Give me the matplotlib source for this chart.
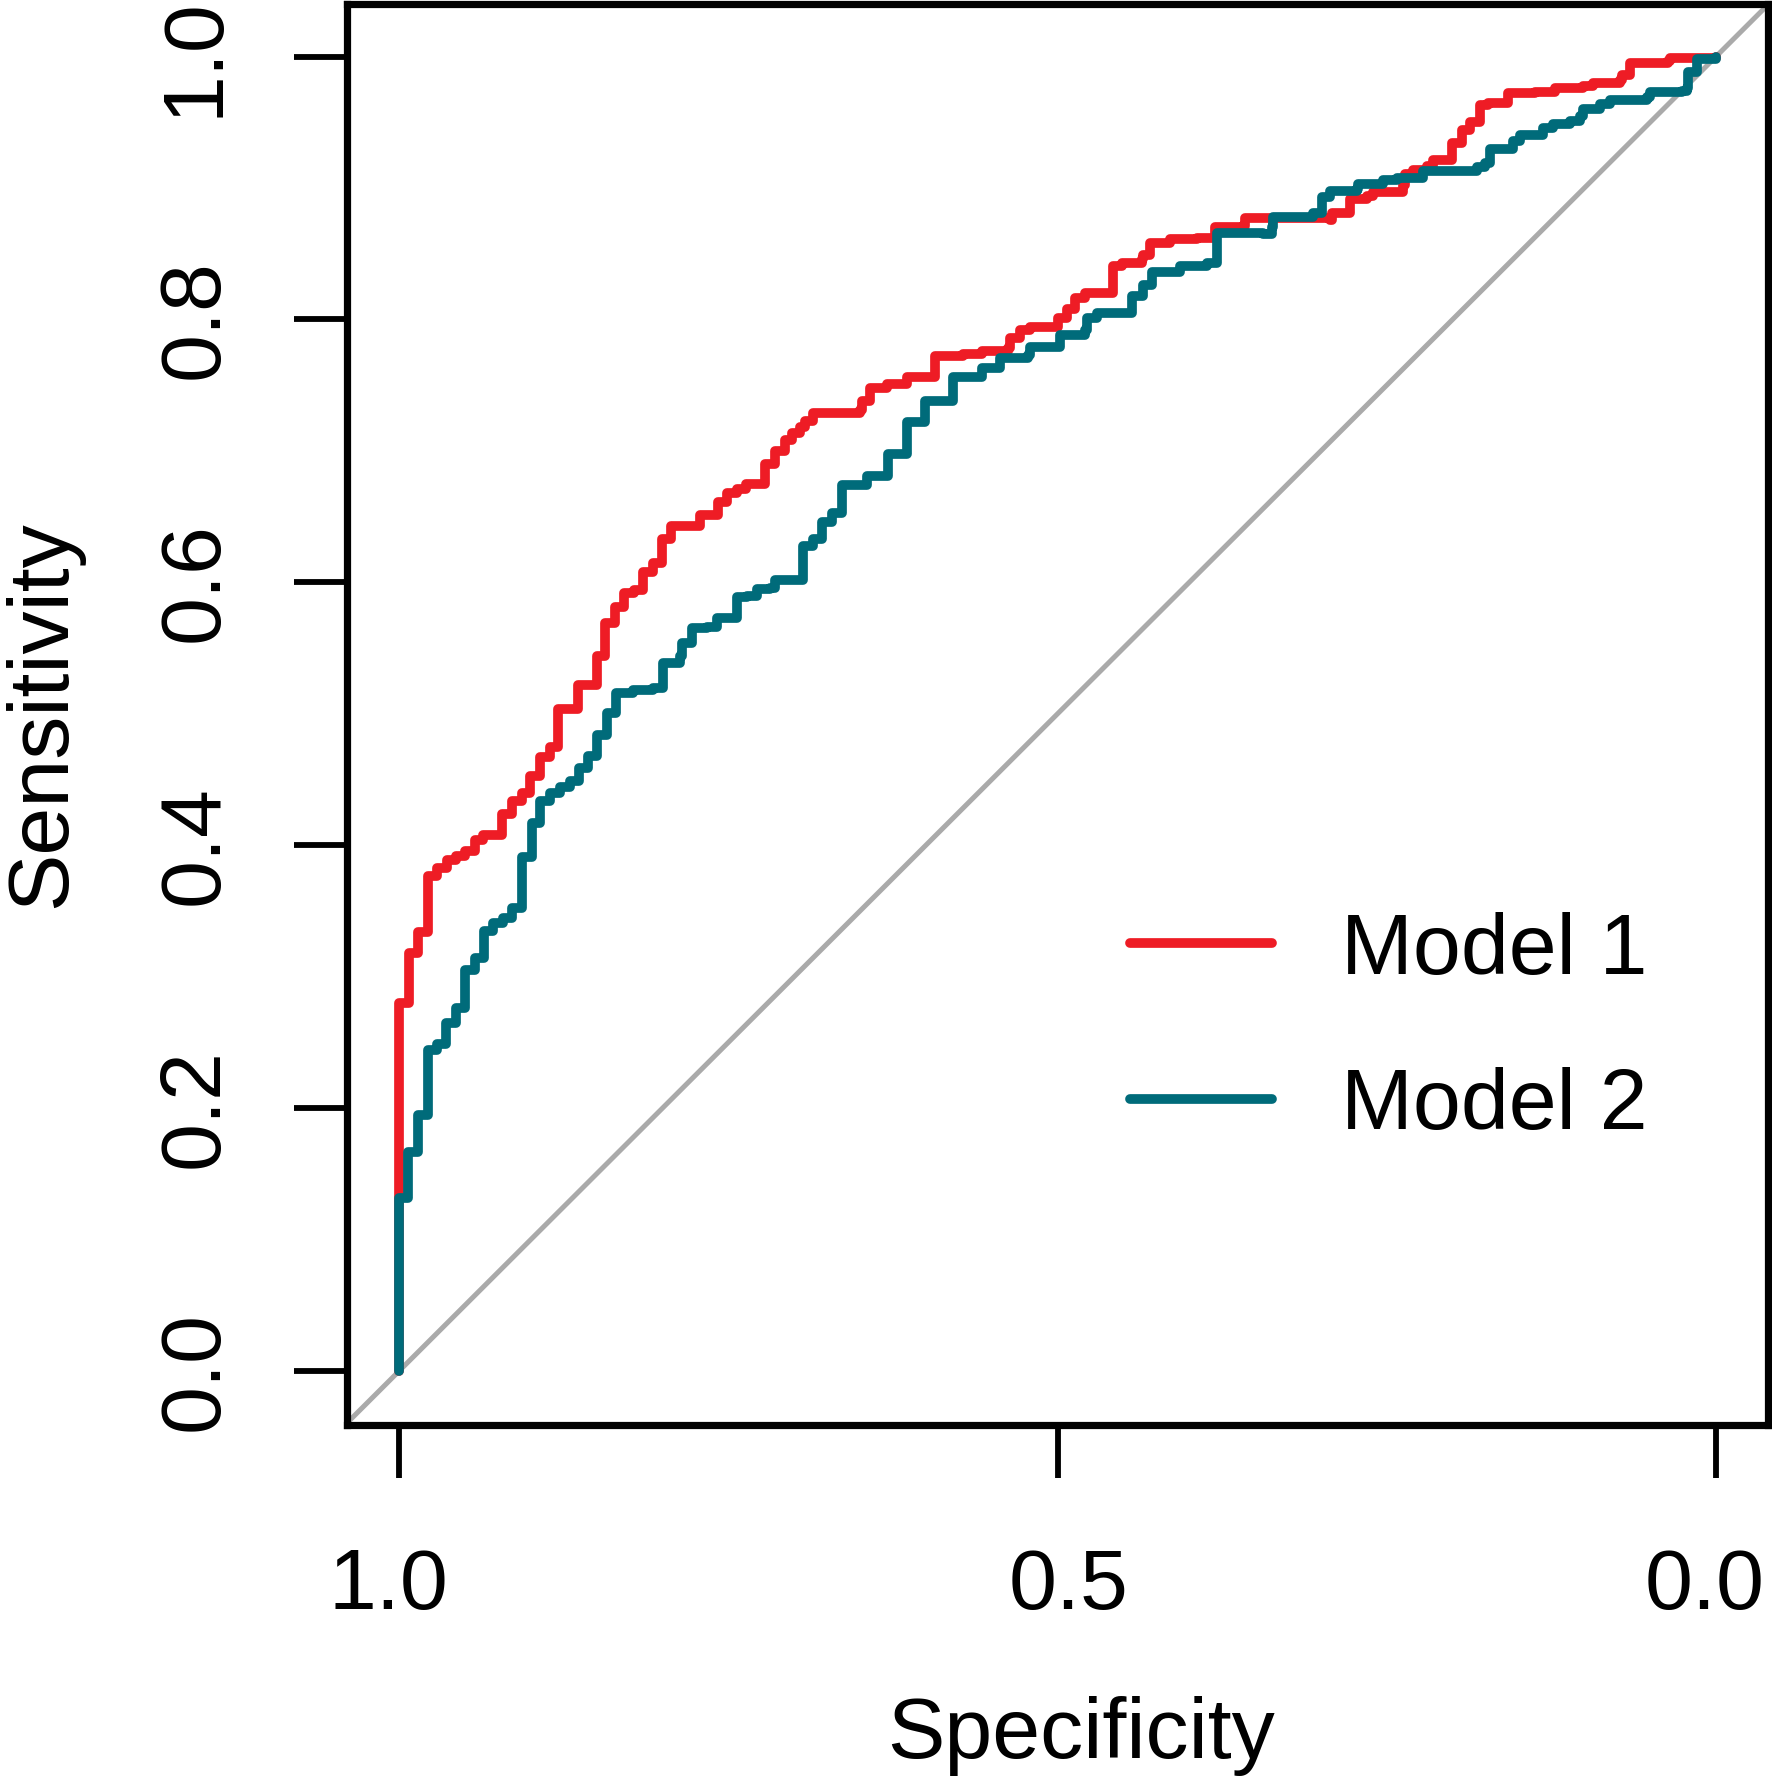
import matplotlib
matplotlib.use("Agg")
import matplotlib.pyplot as plt
import matplotlib.transforms as mtransforms
import numpy as np

plt.rcParams['font.family'] = ['Liberation Sans', 'DejaVu Sans']

# ROC data: false positive rate (1 - specificity) and sensitivity
m1_fpr = [0, 0, 0.0076, 0.0076, 0.0144, 0.0144, 0.022, 0.022, 0.0289, 0.0364, 0.0433, 0.0501,
          0.0577, 0.0638, 0.0782, 0.0782, 0.0858, 0.0934, 0.0995, 0.1071, 0.1147, 0.1207, 0.1207,
          0.1359, 0.1359, 0.1503, 0.1503, 0.1564, 0.164, 0.1708, 0.1784, 0.1853, 0.1929, 0.1997,
          0.2065, 0.2286, 0.2286, 0.2422, 0.2422, 0.249, 0.2566, 0.2635, 0.2779, 0.2779, 0.2855,
          0.2931, 0.2984, 0.3045, 0.3083, 0.3143, 0.3424, 0.35, 0.3516, 0.3576, 0.3705, 0.3857,
          0.407, 0.407, 0.4282, 0.4427, 0.4624, 0.4639, 0.4715, 0.4791, 0.4996, 0.5004, 0.5072,
          0.5133, 0.5209, 0.5421, 0.5421, 0.549, 0.5642, 0.5649, 0.5702, 0.5854, 0.6059, 0.6196,
          0.6196, 0.6409, 0.6424, 0.6636, 0.7069, 0.7084, 0.7221, 0.7221, 0.735, 0.7396, 0.7623,
          0.7639, 0.7699, 0.7806, 0.7851, 0.7995, 0.7995, 0.8071, 0.8071, 0.8132, 0.8208, 0.8269,
          0.8421, 0.8421, 0.8626, 0.8778, 0.899, 0.9066, 0.9271, 0.9286, 0.9347, 0.9347, 0.9636,
          0.9651, 1.0]
m1_sens = [0, 0.280, 0.280, 0.318, 0.318, 0.334, 0.334, 0.377, 0.383, 0.389, 0.392, 0.396,
           0.404, 0.408, 0.408, 0.424, 0.434, 0.440, 0.453, 0.467, 0.475, 0.475, 0.504,
           0.504, 0.522, 0.522, 0.544, 0.569, 0.581, 0.592, 0.594, 0.608, 0.615, 0.633,
           0.643, 0.643, 0.651, 0.651, 0.661, 0.668, 0.671, 0.675, 0.675, 0.690, 0.700,
           0.708, 0.714, 0.718, 0.723, 0.729, 0.729, 0.731, 0.738, 0.748, 0.751, 0.756,
           0.756, 0.772, 0.774, 0.776, 0.778, 0.786, 0.792, 0.794, 0.794, 0.801, 0.808,
           0.816, 0.820, 0.820, 0.841, 0.843, 0.846, 0.849, 0.858, 0.861, 0.862, 0.862,
           0.870, 0.871, 0.877, 0.877, 0.876, 0.881, 0.881, 0.892, 0.894, 0.897, 0.902,
           0.911, 0.914, 0.917, 0.921, 0.921, 0.934, 0.935, 0.944, 0.950, 0.963, 0.965,
           0.967, 0.972, 0.973, 0.976, 0.978, 0.980, 0.982, 0.986, 0.987, 0.995, 0.997,
           0.999, 1.0]

m2_fpr = [0, 0, 0.0068, 0.0068, 0.0144, 0.0144, 0.022, 0.022, 0.0289, 0.0357, 0.0433, 0.0501,
          0.0577, 0.0645, 0.0714, 0.079, 0.0858, 0.0934, 0.0934, 0.101, 0.1071, 0.1147, 0.1222,
          0.1298, 0.1367, 0.1435, 0.1503, 0.1579, 0.1648, 0.1777, 0.1929, 0.2005, 0.2134, 0.2149,
          0.2225, 0.2339, 0.2415, 0.2566, 0.2642, 0.2718, 0.2817, 0.2855, 0.3068, 0.3068, 0.3143,
          0.3212, 0.3288, 0.3364, 0.3554, 0.3713, 0.3713, 0.3857, 0.3857, 0.3994, 0.3994, 0.4207,
          0.4207, 0.4427, 0.4563, 0.4776, 0.4791, 0.5019, 0.5209, 0.5224, 0.53, 0.5414, 0.5566,
          0.5566, 0.5649, 0.5718, 0.593, 0.6135, 0.6211, 0.6211, 0.656, 0.6629, 0.6636, 0.694,
          0.7008, 0.7008, 0.7069, 0.7274, 0.7282, 0.7472, 0.7578, 0.7775, 0.8003, 0.8185, 0.8246,
          0.8284, 0.8284, 0.8459, 0.8512, 0.8686, 0.8762, 0.8891, 0.8967, 0.899, 0.9119, 0.9195,
          0.9476, 0.9499, 0.9742, 0.978, 0.9787, 0.9856, 0.9856, 1.0]
m2_sens = [0, 0.132, 0.132, 0.167, 0.173, 0.195, 0.195, 0.244, 0.249, 0.265, 0.276, 0.305,
           0.314, 0.335, 0.341, 0.345, 0.352, 0.354, 0.391, 0.417, 0.434, 0.440, 0.444,
           0.449, 0.459, 0.468, 0.484, 0.501, 0.516, 0.518, 0.520, 0.539, 0.544, 0.554,
           0.565, 0.566, 0.573, 0.589, 0.590, 0.595, 0.596, 0.602, 0.602, 0.628, 0.633,
           0.646, 0.653, 0.674, 0.681, 0.681, 0.698, 0.710, 0.722, 0.723, 0.738, 0.746,
           0.756, 0.763, 0.771, 0.773, 0.779, 0.788, 0.792, 0.801, 0.805, 0.805, 0.809,
           0.818, 0.826, 0.836, 0.841, 0.843, 0.849, 0.866, 0.865, 0.870, 0.878, 0.881,
           0.884, 0.893, 0.898, 0.899, 0.903, 0.906, 0.908, 0.913, 0.913, 0.916, 0.919,
           0.922, 0.930, 0.936, 0.940, 0.946, 0.949, 0.951, 0.955, 0.960, 0.964, 0.967,
           0.969, 0.973, 0.974, 0.976, 0.988, 0.989, 0.998, 1.0]

labels = ["Model 1", "Model 2"]
colors = ["#EE1C25", "#006B7A"]
x_ticks = [1.0, 0.5, 0.0]
y_ticks = [0.0, 0.2, 0.4, 0.6, 0.8, 1.0]

spec1 = 1 - np.array(m1_fpr)
spec2 = 1 - np.array(m2_fpr)

fs = 62
fig = plt.figure(figsize=(17.72, 17.85), dpi=100)
ax = fig.add_axes([347 / 1772, 1 - 1425 / 1785, 1421 / 1772, 1421 / 1785])

ax.axline((1, 0), (0, 1), color="#AAAAAA", lw=3.6, zorder=1)
ax.plot(spec1, m1_sens, color=colors[0], lw=7, drawstyle='steps-post',
        solid_joinstyle='round', solid_capstyle='round', label=labels[0], zorder=2)
ax.plot(spec2, m2_sens, color=colors[1], lw=7, drawstyle='steps-post',
        solid_joinstyle='round', solid_capstyle='round', label=labels[1], zorder=2.1)

ax.set_xlim(1.0395, -0.0395)
ax.set_ylim(-0.041, 1.040)

for s in ax.spines.values():
    s.set_linewidth(5.2)

ax.set_xticks(x_ticks)
ax.set_xticklabels([f"{v:.1f}" for v in x_ticks])
ax.set_yticks(y_ticks)
ax.set_yticklabels([f"{v:.1f}" for v in y_ticks])
ax.tick_params(axis='both', length=38, width=4.2, labelsize=fs)
ax.tick_params(axis='x', pad=50)
ax.tick_params(axis='y', pad=42, labelrotation=90)
for lab in ax.get_yticklabels():
    lab.set_va('center')
# small horizontal shifts of the x tick labels, as in the original
for lab, dx in zip(ax.get_xticklabels(), [-0.11, 0.11, -0.11]):
    lab.set_transform(lab.get_transform() + mtransforms.ScaledTranslation(dx, 0, fig.dpi_scale_trans))

ax.set_xlabel("Specificity", fontsize=fs)
ax.set_ylabel("Sensitivity", fontsize=fs)
ax.xaxis.label.set_va('center')
ax.yaxis.label.set_va('center')
ax.xaxis.set_label_coords(0.5165, -0.219)
ax.yaxis.set_label_coords(-0.214, 0.5)

ax.legend(loc='center left', bbox_to_anchor=(0.551, 0.2784), frameon=False,
          fontsize=fs, handlelength=1.65, handletextpad=0.80, labelspacing=0.88,
          borderpad=0, borderaxespad=0)

fig.savefig("out.png", dpi=100)
